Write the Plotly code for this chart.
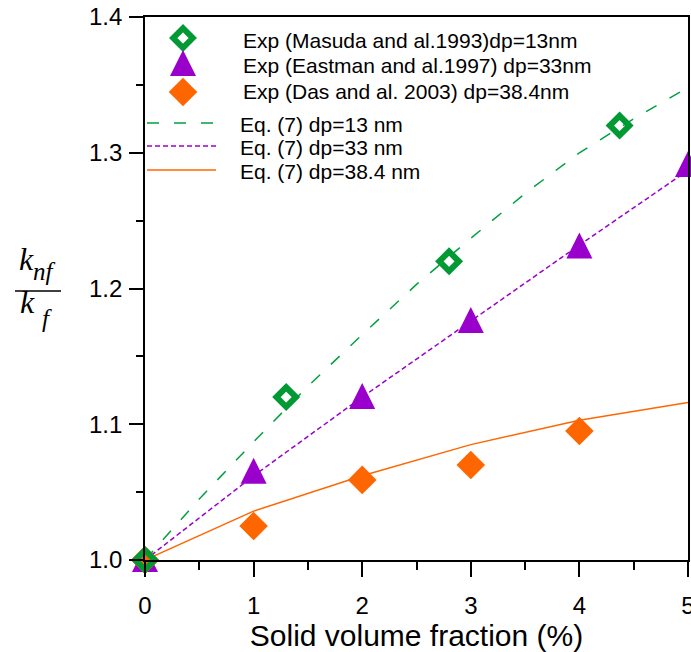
import plotly.graph_objects as go

# Experimental data: solid volume fraction (%) vs k_nf/k_f
masuda_x = [0, 1.3, 2.8, 4.37]
masuda_y = [1.0, 1.12, 1.22, 1.32]
eastman_x = [0, 1, 2, 3, 4, 5]
eastman_y = [1.0, 1.065, 1.12, 1.176, 1.231, 1.291]
das_x = [0, 1, 2, 3, 4]
das_y = [1.0, 1.025, 1.059, 1.07, 1.095]

# Model curves, Eq. (7)
eq13_x = [0, 0.5, 1, 1.5, 2, 2.5, 3, 3.5, 4, 4.5, 5]
eq13_y = [1.0, 1.045, 1.087, 1.128, 1.166, 1.203, 1.237, 1.27, 1.30, 1.325, 1.348]
eq33_x = [0, 1, 2, 3, 4, 5]
eq33_y = [1.0, 1.062, 1.12, 1.176, 1.232, 1.287]
eq384_x = [0, 1, 2, 3, 4, 5]
eq384_y = [1.0, 1.036, 1.062, 1.085, 1.103, 1.116]

x_ticks = [0, 1, 2, 3, 4, 5]
y_ticks = [1.0, 1.1, 1.2, 1.3, 1.4]

legend_labels = [
    "Exp (Masuda and al.1993)dp=13nm",
    "Exp (Eastman and al.1997) dp=33nm",
    "Exp (Das and al. 2003) dp=38.4nm",
    "Eq. (7) dp=13 nm",
    "Eq. (7) dp=33 nm",
    "Eq. (7) dp=38.4 nm",
]

GREEN = "#009933"
GREEN_LINE = "#00A040"
PURPLE = "#9900CC"
ORANGE = "#FF6600"

W, H = 691, 652
L, R, T, B = 145, 3, 17, 92
PW, PH = W - L - R, H - T - B


def px(xp):
    """page x pixel -> paper coordinate"""
    return (xp - L) / PW


def py(yp):
    """page y pixel -> paper coordinate"""
    return (H - B - yp) / PH


SANS = "Liberation Sans, Arial, sans-serif"
SERIF = "Liberation Serif, Times New Roman, serif"

mk_masuda = dict(symbol="diamond-open", size=15, color=GREEN, line=dict(width=6, color=GREEN))
mk_eastman = dict(symbol="arrow-down", angle=180, standoff=14, size=26, color=PURPLE,
                  line=dict(width=0))
mk_das = dict(symbol="diamond", size=22, color=ORANGE, line=dict(width=0))

line_13 = dict(color=GREEN_LINE, width=1.5, dash="12px,15px")
line_33 = dict(color=PURPLE, width=1.5, dash="5px,3px")
line_384 = dict(color=ORANGE, width=1.5)

fig = go.Figure()

fig.add_trace(go.Scatter(x=eq13_x, y=eq13_y, mode="lines", line=line_13, showlegend=False))
fig.add_trace(go.Scatter(x=eq33_x, y=eq33_y, mode="lines", line=line_33, showlegend=False))
fig.add_trace(go.Scatter(x=eq384_x, y=eq384_y, mode="lines", line=line_384, showlegend=False))
fig.add_trace(go.Scatter(x=eastman_x, y=eastman_y, mode="markers", marker=mk_eastman,
                         cliponaxis=False, showlegend=False))
fig.add_trace(go.Scatter(x=das_x, y=das_y, mode="markers", marker=mk_das,
                         cliponaxis=False, showlegend=False))
fig.add_trace(go.Scatter(x=masuda_x, y=masuda_y, mode="markers", marker=mk_masuda,
                         cliponaxis=False, showlegend=False))

# ---- legend, drawn on an overlay axis in paper units ----
key_x = px(183)
marker_rows = [38, 64, 92]
line_rows = [123, 146, 170]
for row, mk in zip(marker_rows, [mk_masuda, mk_eastman, mk_das]):
    fig.add_trace(go.Scatter(x=[key_x], y=[py(row)], mode="markers", marker=mk,
                             xaxis="x2", yaxis="y2", showlegend=False,
                             cliponaxis=False, hoverinfo="skip"))
for row, ln in zip(line_rows, [line_13, line_33, line_384]):
    fig.add_shape(type="line", xref="paper", yref="paper",
                  x0=px(147), x1=px(216), y0=py(row), y1=py(row), line=ln)

label_x = [241, 241, 241, 238, 238, 238]
label_rows = [40, 65, 92, 124, 147, 171]
for text, lx, ly in zip(legend_labels, label_x, label_rows):
    fig.add_annotation(text=text, xref="paper", yref="paper", x=px(lx), y=py(ly),
                       xanchor="left", yanchor="middle", showarrow=False,
                       font=dict(family=SANS, size=21, color="black"))

tick_font = dict(family=SANS, size=24, color="black")

fig.update_layout(
    width=W, height=H,
    margin=dict(l=L, r=R, t=T, b=B, autoexpand=False),
    paper_bgcolor="white", plot_bgcolor="white",
    font=dict(family=SANS, color="black"),
    showlegend=False,
    xaxis=dict(range=[0, 5], tickvals=x_ticks, automargin=False,
               ticklabeloverflow="allow",
               ticks="outside", ticklen=15, tickwidth=1.5, tickcolor="black",
               ticklabelstandoff=8,
               minor=dict(dtick=0.5, ticks="outside", ticklen=8, tickwidth=1.5,
                          tickcolor="black"),
               showline=True, linecolor="black", linewidth=1.8, mirror=True,
               showgrid=False, zeroline=False, tickfont=tick_font,
               title=dict(text="Solid volume fraction (%)", standoff=2,
                          font=dict(family=SANS, size=30))),
    yaxis=dict(range=[1.0, 1.4], tickvals=y_ticks, tickformat=".1f", automargin=False,
               ticks="outside", ticklen=14, tickwidth=1.5, tickcolor="black",
               ticklabelstandoff=2,
               minor=dict(dtick=0.05, ticks="outside", ticklen=7, tickwidth=1.5,
                          tickcolor="black"),
               showline=True, linecolor="black", linewidth=1.8, mirror=True,
               showgrid=False, zeroline=False, tickfont=tick_font),
    xaxis2=dict(overlaying="x", range=[0, 1], visible=False, fixedrange=True),
    yaxis2=dict(overlaying="y", range=[0, 1], visible=False, fixedrange=True),
)

# y-axis label: fraction k_nf / k_f
fig.add_annotation(text="<i>k</i>", xref="paper", yref="paper", x=px(26), y=py(259),
                   xanchor="center", yanchor="middle", showarrow=False,
                   font=dict(family=SERIF, size=32, color="black"))
fig.add_annotation(text="<i>nf</i>", xref="paper", yref="paper", x=px(44), y=py(271),
                   xanchor="center", yanchor="middle", showarrow=False,
                   font=dict(family=SERIF, size=25, color="black"))
fig.add_annotation(text="<i>k</i>", xref="paper", yref="paper", x=px(27), y=py(302),
                   xanchor="center", yanchor="middle", showarrow=False,
                   font=dict(family=SERIF, size=32, color="black"))
fig.add_annotation(text="<i>f</i>", xref="paper", yref="paper", x=px(47), y=py(318),
                   xanchor="center", yanchor="middle", showarrow=False,
                   font=dict(family=SERIF, size=25, color="black"))
fig.add_shape(type="line", xref="paper", yref="paper",
              x0=px(15), x1=px(61), y0=py(291), y1=py(291),
              line=dict(color="black", width=1.5))

fig.write_html("out.html")
